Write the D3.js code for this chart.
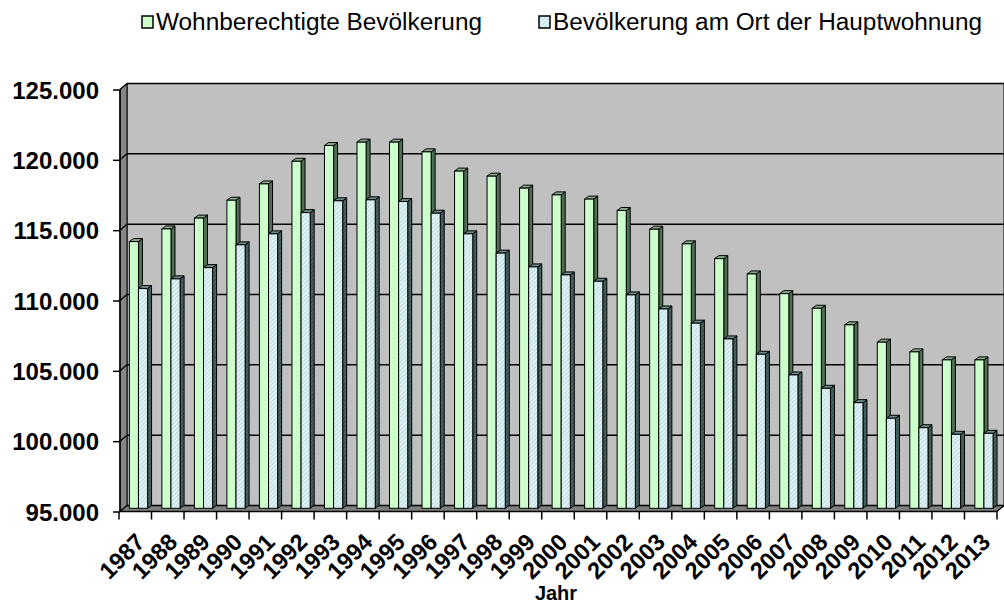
<!DOCTYPE html>
<html>
<head>
<meta charset="utf-8">
<script src="https://cdn.jsdelivr.net/npm/d3@7/dist/d3.min.js"></script>
<style>
  html, body { margin: 0; padding: 0; background: #fff; }
  svg { display: block; }
</style>
</head>
<body>
<svg id="chart" width="1004" height="608"></svg>
<script>
// ---- data ----
const years = ["1987","1988","1989","1990","1991","1992","1993","1994","1995","1996","1997","1998","1999","2000","2001","2002","2003","2004","2005","2006","2007","2008","2009","2010","2011","2012","2013"];
const seriesNames = ["Wohnberechtigte Bevölkerung", "Bevölkerung am Ort der Hauptwohnung"];
const wohnberechtigt = [113960, 114860, 115630, 116900, 118060, 119670, 120790, 121030, 121030, 120340, 118970, 118610, 117760, 117280, 116980, 116170, 114840, 113800, 112750, 111660, 110260, 109220, 108040, 106810, 106120, 105550, 105550];
const hauptwohnung = [110620, 111310, 112110, 113730, 114510, 116020, 116860, 116930, 116810, 115980, 114510, 113140, 112160, 111590, 111140, 110170, 109170, 108160, 107040, 105950, 104480, 103530, 102510, 101400, 100730, 100260, 100330];
const yTickValues = [95000, 100000, 105000, 110000, 115000, 120000, 125000];
const yTickLabels = ["95.000", "100.000", "105.000", "110.000", "115.000", "120.000", "125.000"];
const xTitle = "Jahr";

(function () {
// ---- layout ----
const svg = d3.select("#chart");
const DX = 7, DY = -6;        // full depth of the 3D box
const FX = 3.2, FY = -3.2;    // depth of bar front faces
const BX = 4, BY = -3;        // bar depth

const x0 = d3.scaleBand().domain(years).range([119, 997]).paddingInner(0.44).paddingOuter(0.22);
const x1 = d3.scaleBand().domain(seriesNames).range([0, x0.bandwidth()]);
const y = d3.scaleLinear().domain([95000, 125000]).range([511.5, 89.5]);

const pL = 120, pR = 997, pB = y(95000), pT = y(125000);

const defs = svg.append("defs");
const pat = defs.append("pattern").attr("id", "hatch").attr("width", 3).attr("height", 3)
  .attr("patternUnits", "userSpaceOnUse").attr("patternTransform", "rotate(45)");
pat.append("rect").attr("width", 3).attr("height", 3).attr("fill", "#c2e2e8");
pat.append("rect").attr("width", 1.2).attr("height", 3).attr("fill", "#eef8fa");

const patS = defs.append("pattern").attr("id", "hatchSide").attr("width", 3).attr("height", 3)
  .attr("patternUnits", "userSpaceOnUse").attr("patternTransform", "rotate(45)");
patS.append("rect").attr("width", 3).attr("height", 3).attr("fill", "#3a5353");
patS.append("rect").attr("width", 1.2).attr("height", 3).attr("fill", "#4e6868");

const poly = pts => pts.map(p => p.join(",")).join(" ");

// back wall
svg.append("polygon")
  .attr("points", poly([[pL + DX, pT + DY], [1004, pT + DY], [1004, pB + DY], [pL + DX, pB + DY]]))
  .attr("fill", "#c0c0c0").attr("stroke", "#000").attr("stroke-width", 1);
// left wall
svg.append("polygon")
  .attr("points", poly([[pL, pT], [pL + DX, pT + DY], [pL + DX, pB + DY], [pL, pB]]))
  .attr("fill", "#868686").attr("stroke", "#000").attr("stroke-width", 1);
// floor
svg.append("polygon")
  .attr("points", poly([[pL, pB], [pL + DX, pB + DY], [pR + DX, pB + DY], [pR, pB]]))
  .attr("fill", "#7f7f7f").attr("stroke", "#000").attr("stroke-width", 1);

// gridlines
const grid = svg.append("g");
yTickValues.forEach(v => {
  const yy = y(v);
  grid.append("line").attr("x1", pL + DX).attr("x2", 1004).attr("y1", yy + DY).attr("y2", yy + DY)
    .attr("stroke", "#000").attr("stroke-width", 1.5);
  grid.append("line").attr("x1", pL).attr("x2", pL + DX).attr("y1", yy).attr("y2", yy + DY)
    .attr("stroke", "#000").attr("stroke-width", 1.3);
});

// bars
const data = years.map((yr, i) => ({ year: yr, vals: [wohnberechtigt[i], hauptwohnung[i]] }));
const styles = [
  { front: "#ccffcc", side: "#4e6e52", topc: "#88aa8a" },
  { front: "url(#hatch)", side: "url(#hatchSide)", topc: "#6a8a8a" }
];
const barsG = svg.append("g");
data.forEach(d => {
  d.vals.forEach((v, si) => {
    const xf = x0(d.year) + x1(seriesNames[si]) + FX;
    const w = x1.bandwidth();
    const yt = y(v) + FY;
    const yb = y(95000) + FY;
    const st = styles[si];
    const g = barsG.append("g");
    g.append("polygon")
      .attr("points", poly([[xf + w, yt], [xf + w + BX, yt + BY], [xf + w + BX, yb + BY], [xf + w, yb]]))
      .attr("fill", st.side).attr("stroke", "#000").attr("stroke-width", 1);
    g.append("polygon")
      .attr("points", poly([[xf, yt], [xf + BX, yt + BY], [xf + w + BX, yt + BY], [xf + w, yt]]))
      .attr("fill", st.topc).attr("stroke", "#000").attr("stroke-width", 1);
    g.append("rect").attr("x", xf).attr("y", yt).attr("width", w).attr("height", yb - yt)
      .attr("fill", st.front).attr("stroke", "#000").attr("stroke-width", 1);
  });
});

// front axes lines
svg.append("line").attr("x1", pL).attr("x2", pL).attr("y1", pT).attr("y2", pB)
  .attr("stroke", "#000").attr("stroke-width", 1.5);
svg.append("line").attr("x1", pL).attr("x2", pR).attr("y1", pB).attr("y2", pB)
  .attr("stroke", "#000").attr("stroke-width", 1.5);
svg.append("line").attr("x1", pR).attr("x2", pR + DX).attr("y1", pB).attr("y2", pB + DY)
  .attr("stroke", "#000").attr("stroke-width", 1.2);

// y axis
const yAxis = d3.axisLeft(y).tickValues(yTickValues).tickFormat((d, i) => yTickLabels[i])
  .tickSize(7).tickPadding(14);
const yg = svg.append("g").attr("transform", `translate(${pL},0)`).call(yAxis);
yg.select(".domain").remove();
yg.selectAll(".tick line").attr("stroke", "#000").attr("stroke-width", 1.5);
yg.selectAll(".tick text").attr("font-family", "'Liberation Sans', Arial, sans-serif")
  .attr("font-weight", "bold").attr("font-size", 24).attr("fill", "#000").attr("dy", "0.36em");

// x axis ticks at band boundaries
const step = x0.step();
const xg = svg.append("g");
d3.range(years.length + 1).forEach(i => {
  const xx = x0.range()[0] + i * step;
  xg.append("line").attr("x1", xx).attr("x2", xx).attr("y1", pB).attr("y2", pB + 8)
    .attr("stroke", "#000").attr("stroke-width", 1.5);
});
years.forEach(yr => {
  const cx = x0(yr) + x0.bandwidth() / 2;
  xg.append("text")
    .attr("transform", `translate(${cx + 11},${pB + 32}) rotate(-45)`)
    .attr("text-anchor", "end")
    .attr("font-family", "'Liberation Sans', Arial, sans-serif")
    .attr("font-weight", "bold").attr("font-size", 23.5).attr("fill", "#000")
    .text(yr);
});
svg.append("text").attr("x", 556).attr("y", 600).attr("text-anchor", "middle")
  .attr("font-family", "'Liberation Sans', Arial, sans-serif")
  .attr("font-weight", "bold").attr("font-size", 20).text(xTitle);

// legend
const legend = [
  { x: 142, tx: 156, tw: 326, fill: "#ccffcc" },
  { x: 539, tx: 553, tw: 429, fill: "url(#hatch)" }
];
legend.forEach((l, i) => {
  svg.append("rect").attr("x", l.x).attr("y", 16).attr("width", 11).attr("height", 12)
    .attr("fill", l.fill).attr("stroke", "#000").attr("stroke-width", 1.5);
  svg.append("text").attr("x", l.tx).attr("y", 30)
    .attr("font-family", "'Liberation Sans', Arial, sans-serif")
    .attr("font-size", 23).attr("fill", "#000")
    .attr("textLength", l.tw).attr("lengthAdjust", "spacingAndGlyphs")
    .text(seriesNames[i]);
});
})();
</script>
</body>
</html>
